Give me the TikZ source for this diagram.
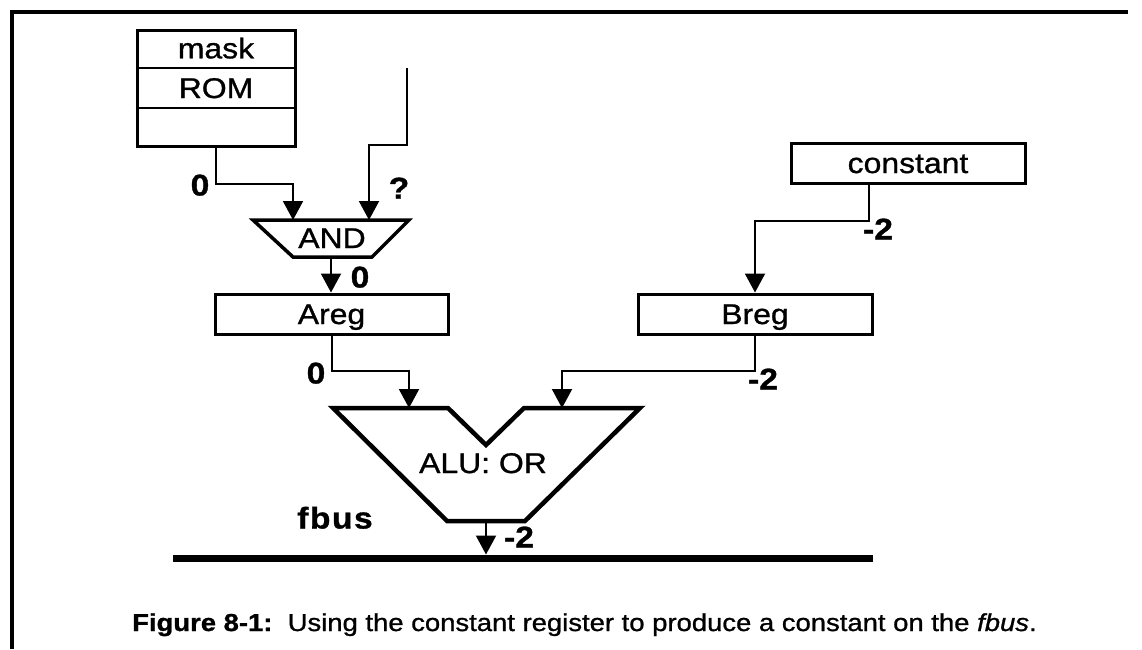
\documentclass[tikz,border=0pt]{standalone}
\usepackage{fontspec}
\setmainfont[FakeStretch=1.12,FakeBold=1]{Liberation Sans}
\usetikzlibrary{arrows.meta,calc,shapes.geometric}
\begin{document}
\begin{tikzpicture}[x=1pt,y=-1pt,
  wire/.style={line width=2pt},
  arr/.style={-{Triangle[length=19pt,width=20pt]}},
  boxed/.style={draw,line width=3pt,inner sep=0pt,minimum height=40pt,minimum width=233pt,
    font=\fontsize{28.5}{30}\selectfont,text height=20pt,text depth=0pt},
  txt/.style={inner sep=0pt,font=\fontsize{28.5}{30}\selectfont,text height=20pt,text depth=0pt},
  lbl/.style={inner sep=0pt,font=\bfseries\fontsize{30}{32}\selectfont,text height=21pt,text depth=0pt},
  gate/.style={line width=3.5pt,line join=miter},
  alushape/.style={line width=4.5pt,line join=miter}]
\useasboundingbox (0,0) rectangle (1142,649);
% frame (top and left edges)
\coordinate (fbl) at (12,649);
\coordinate (ftl) at (12,12);
\coordinate (ftr) at (1128,12);
\draw[line width=3.5pt] (fbl) -- (ftl) -- (ftr);

% mask ROM
\node[draw,line width=3pt,inner sep=0pt,minimum width=158pt,minimum height=116pt] (rom) at (216,88) {};
\draw[line width=2pt] ($(rom.north west)!1/3!(rom.south west)$) -- ($(rom.north east)!1/3!(rom.south east)$);
\draw[line width=2pt] ($(rom.north west)!2/3!(rom.south west)$) -- ($(rom.north east)!2/3!(rom.south east)$);
\node[txt] (mask) at ($(rom.north)!1/6!(rom.south)$) {mask};
\node[txt] (romt) at ($(rom.north)!1/2!(rom.south)$) {ROM};

% AND gate
\draw[gate] (253,220) -- (409,220) -- (372,257) -- (293,257) -- cycle;
\node[txt] (and) at (332,238) {AND};
\coordinate (andA) at (293,220);
\coordinate (andB) at (369,220);
\coordinate (andout) at (331,257);

% registers
\node[boxed] (areg) at (331.5,314) {Areg};
\node[boxed,minimum width=234pt] (breg) at (755,314) {Breg};
\node[boxed,minimum width=234pt] (const) at (908,163) {constant};

% ALU
\draw[alushape] (333,408) -- (448,408) -- (486,445) -- (524,408) -- (640,408) -- (525,521) -- (447,521) -- cycle;
\node[txt] (alu) at (483,463) {ALU: OR};
\coordinate (aluA) at (409,408);
\coordinate (aluB) at (562,408);
\coordinate (aluout) at (486,521);

% fbus
\coordinate (busL) at (173,558);
\coordinate (busR) at (873,558);
\coordinate (busin) at (486,554.5);
\draw[line width=7pt] (busL) -- (busR);
\node[lbl] (fbuslbl) at (335,518) {f\kern1.5pt b\kern1.5pt u\kern1.5pt s};

% connectors
\draw[wire,arr] (rom.south) -- ++(0,36) -| (andA);
\coordinate (qtop) at (407,68);
\draw[wire,arr] (qtop) -- ++(0,77) -| (andB);
\draw[wire,arr] (andout) -- (andout |- areg.north);
\coordinate (constout) at ($(const.south west)+(79,0)$);
\draw[wire,arr] (constout) -- ++(0,36) -| (breg.north);
\draw[wire,arr] (areg.south) -- ++(0,35) -| (aluA);
\draw[wire,arr] (breg.south) -- ++(0,35) -| (aluB);
\draw[wire,arr] (aluout) -- (busin);

% value labels
\node[lbl] (l0a) at (200,185) {0};
\node[lbl] (lq) at (399,188) {?};
\node[lbl] (l0b) at (360,277) {0};
\node[lbl] (lm2a) at (878,229) {-2};
\node[lbl] (l0c) at (316,373) {0};
\node[lbl] (lm2b) at (763,379) {-2};
\node[lbl] (lm2c) at (519,537) {-2};

% caption
\node[anchor=west,inner sep=0pt,font=\fontsize{24.5}{28}\selectfont,text height=18pt,text depth=0pt] (cap) at (132,622)
  {\textbf{Figure 8-1:}\ \ Using the constant register to produce a constant on the \textit{fbus}.};
\end{tikzpicture}
\end{document}
